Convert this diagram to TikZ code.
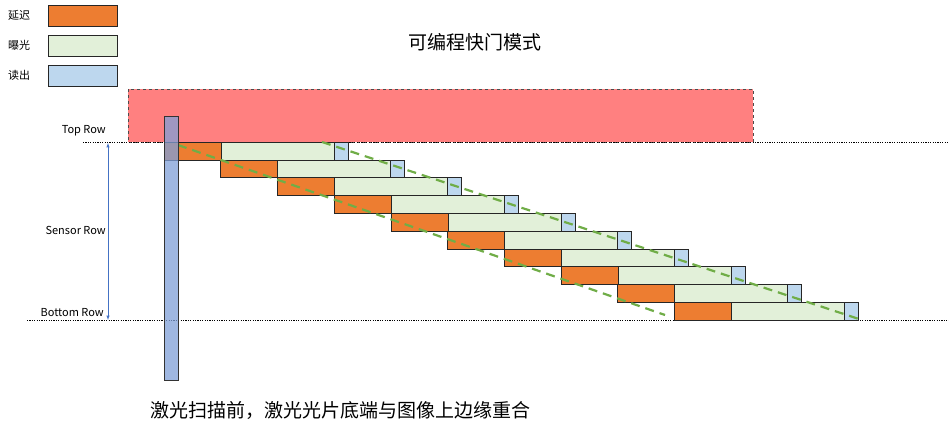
\documentclass[tikz,border=0pt]{standalone}
\usepackage{fontspec}
\setmainfont{Noto Sans CJK SC}
\definecolor{cor}{HTML}{ED7D31}
\definecolor{cgr}{HTML}{E2F0D9}
\definecolor{cbl}{HTML}{BDD7EE}
\definecolor{cred}{HTML}{FF8080}
\definecolor{cbar}{HTML}{7F9FD8}
\definecolor{cdash}{HTML}{70AD47}
\definecolor{carrow}{HTML}{4472C4}
\begin{document}
\begin{tikzpicture}[x=1pt,y=-1pt,
  seg/.style={draw=black!85,line width=0.6pt},
  lbl/.style={font=\fontsize{11}{12}\selectfont,inner sep=0},
  guide/.style={dashed,dash pattern=on 1.2pt off 1.2pt,line width=0.6pt}]
\useasboundingbox[fill=white] (0,0) rectangle (949,433);
% legend
\node[lbl,anchor=west] (l1) at (8,15) {延迟};
\node[lbl,anchor=west] (l2) at (8,45) {曝光};
\node[lbl,anchor=west] (l3) at (8,75) {读出};
\draw[seg,fill=cor] (48,5) rectangle (117,26);
\draw[seg,fill=cgr] (48,35) rectangle (117,56);
\draw[seg,fill=cbl] (48,65) rectangle (117,86);
\node[font=\fontsize{19}{20}\selectfont] (title) at (475,42) {可编程快门模式};
% red region
\draw[fill=cred,draw=black!70,dashed,line width=0.5pt] (128,89) rectangle (753,142);
% guide lines
\coordinate (tr0) at (83,142); \coordinate (tr1) at (949,142);
\coordinate (br0) at (27,320); \coordinate (br1) at (949,320);
\draw[guide] (tr0) -- (tr1);
\draw[guide] (br0) -- (br1);
\node[lbl,anchor=east] (top) at (106,131) {Top Row};
\node[lbl,anchor=east] (sen) at (106,230) {Sensor Row};
\node[lbl,anchor=east] (bot) at (104,313) {Bottom Row};
\coordinate (a0) at (108,143); \coordinate (a1) at (108,320);
\draw[carrow,<->,>=latex,line width=0.5pt] (a0) -- (a1);
% rows
\foreach \i in {0,...,9}{
  \pgfmathsetmacro{\xa}{164+56.7*\i}
  \pgfmathsetmacro{\ya}{142+17.8*\i}
  \draw[seg,fill=cor] (\xa,\ya) rectangle ++(57,17.8);
  \draw[seg,fill=cgr] (\xa+57,\ya) rectangle ++(113,17.8);
  \draw[seg,fill=cbl] (\xa+170,\ya) rectangle ++(14,17.8);
}
% dashed green lines
\coordinate (d0) at (178,145); \coordinate (d1) at (665,315);
\coordinate (e0) at (322,142); \coordinate (e1) at (862,320);
\draw[cdash,line width=2.2pt,dash pattern=on 9pt off 6pt] (d0) -- (d1);
\draw[cdash,line width=2.2pt,dash pattern=on 9pt off 6pt] (e0) -- (e1);
% laser bar
\draw[fill=cbar,fill opacity=0.75,draw=black!80,line width=0.6pt] (164,116) rectangle (178,380);
\node[font=\fontsize{19}{20}\selectfont] (cap) at (340,410) {激光扫描前，激光光片底端与图像上边缘重合};
\end{tikzpicture}
\end{document}
